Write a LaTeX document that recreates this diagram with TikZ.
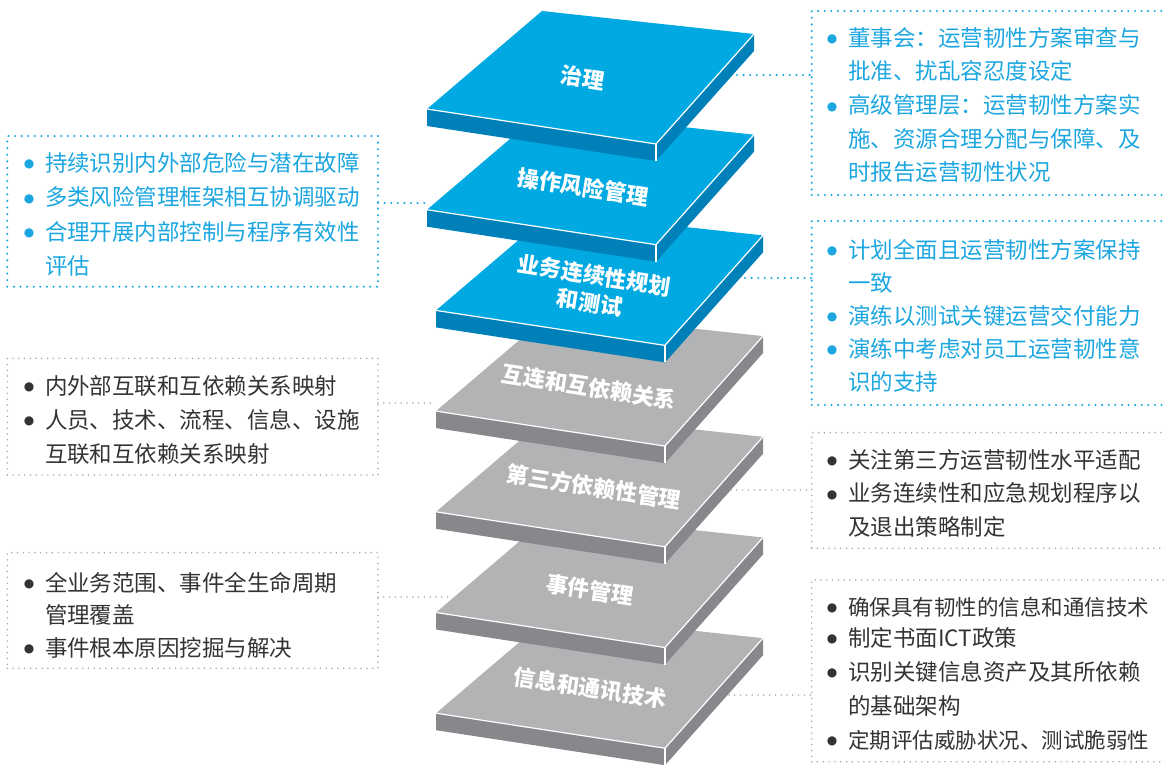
\documentclass[tikz,border=0pt]{standalone}
\usepackage{fontspec}
\setmainfont{Noto Sans CJK SC}
\newfontfamily\symfont{DejaVu Sans}
\usepackage{tikz}

\definecolor{topblue}{HTML}{00A9E2}
\definecolor{sideblue}{HTML}{0080B9}
\definecolor{topgray}{HTML}{B1B3B4}
\definecolor{sidegray}{HTML}{86888C}
\definecolor{noteblue}{HTML}{1BA6E0}
\definecolor{notegray}{HTML}{A8A8A8}
\definecolor{textgray}{HTML}{333333}

\newcommand{\bul}{\makebox[32pt][c]{\raisebox{3.5pt}{\symfont\fontsize{12}{12}\selectfont ●}}}
\newcommand{\cont}{\hspace*{32pt}}

\begin{document}
\begin{tikzpicture}[x=1pt, y=-1pt,
  layertext/.style={text=white, font=\bfseries\fontsize{22}{28}\selectfont, align=center, rotate=-9},
  bluedots/.style={draw=noteblue, dash pattern=on 0pt off 6.6pt, line cap=round, line width=2.3pt},
  graydots/.style={draw=notegray, dash pattern=on 0pt off 5.8pt, line cap=round, line width=1.7pt},
  note/.style={anchor=north west, align=left, inner ysep=0pt, outer sep=0pt},
  leftnote/.style={note, inner xsep=5.7pt, text width=359.3pt},
  rightnote/.style={note, inner xsep=4.3pt, text width=354.7pt},
  bluenote/.style={bluedots, text=noteblue},
  graynote/.style={graydots, text=textgray}
]
  \useasboundingbox (0,0) rectangle (1165,764);

  % layers, bottom first
  \foreach \n/\dx/\tc/\sc in {7/9/topgray/sidegray, 6/9/topgray/sidegray, 5/9/topgray/sidegray,
      4/9/topgray/sidegray, 3/9/topblue/sideblue, 2/0/topblue/sideblue, 1/0/topblue/sideblue} {
    \begin{scope}[shift={({542+\dx},{11+100.7*(\n-1)})}]
      \fill[\sc] (-115,98) -- (114,133) -- (114,150) -- (-115,115) -- cycle;
      \fill[\sc] (114,133) -- (212,23) -- (212,40) -- (114,150) -- cycle;
      \fill[\tc] (0,0) -- (212,23) -- (114,133) -- (-115,98) -- cycle;
      \draw[white, line width=1.2pt] (-115,98) -- (114,133) -- (212,23);
      \draw[white, line width=1.2pt] (114,133) -- (114,150);
    \end{scope}
  }

  \node[layertext] (gov) at (583,78) {治理};
  \node[layertext] (orm) at (583,187) {操作风险管理};
  \node[layertext] (bcp) at (592,289) {业务连续性规划\\和测试};
  \node[layertext] (inter) at (589,387) {互连和互依赖关系};
  \node[layertext] (third) at (594,487) {第三方依赖性管理};
  \node[layertext] (inc) at (590,590) {事件管理};
  \node[layertext] (ict) at (590,688) {信息和通讯技术};

  % notes
  \node[rightnote, bluenote, text height=35.3pt, text depth=148.7pt,
    font=\fontsize{22.5}{33.6}\selectfont] (govnote) at (811.7,11)
    {\bul 董事会：运营韧性方案审查与\\\cont 批准、扰乱容忍度设定\\\bul 高级管理层：运营韧性方案实\\\cont 施、资源合理分配与保障、及\\\cont 时报告运营韧性状况};
  \node[leftnote, bluenote, text height=35pt, text depth=115.7pt,
    font=\fontsize{22.5}{34.5}\selectfont] (ormnote) at (7.3,136)
    {\bul 持续识别内外部危险与潜在故障\\\bul 多类风险管理框架相互协调驱动\\\bul 合理开展内部控制与程序有效性\\\cont 评估};
  \node[rightnote, bluenote, text height=37pt, text depth=147pt,
    font=\fontsize{22.5}{33}\selectfont] (bcpnote) at (811.7,221)
    {\bul 计划全面且运营韧性方案保持\\\cont 一致\\\bul 演练以测试关键运营交付能力\\\bul 演练中考虑对员工运营韧性意\\\cont 识的支持};
  \node[leftnote, graynote, text height=35.7pt, text depth=81pt,
    font=\fontsize{22.5}{34}\selectfont] (internote) at (7.3,358.3)
    {\bul 内外部互联和互依赖关系映射\\\bul 人员、技术、流程、信息、设施\\\cont 互联和互依赖关系映射};
  \node[rightnote, graynote, text height=35.3pt, text depth=80.3pt,
    font=\fontsize{22.5}{33.6}\selectfont] (thirdnote) at (811.7,432.7)
    {\bul 关注第三方运营韧性水平适配\\\bul 业务连续性和应急规划程序以\\\cont 及退出策略制定};
  \node[leftnote, graynote, text height=38.6pt, text depth=77pt,
    font=\fontsize{22.5}{32.5}\selectfont] (incnote) at (7.3,552.7)
    {\bul 全业务范围、事件全生命周期\\\cont 管理覆盖\\\bul 事件根本原因挖掘与解决};
  \node[rightnote, graynote, text height=35pt, text depth=146.7pt,
    font=\fontsize{22.5}{34}\selectfont] (ictnote) at (811.7,580)
    {\bul {\fontsize{21.5}{34}\selectfont 确保具有韧性的信息和通信技术}\\[-3pt]\bul 制定书面ICT政策\\\bul 识别关键信息资产及其所依赖\\\cont 的基础架构\\\bul {\fontsize{21.5}{34}\selectfont 定期评估威胁状况、测试脆弱性}};

  % links
  \coordinate (gov-r) at (737,75);
  \coordinate (orm-l) at (426,203);
  \coordinate (bcp-r) at (745,278);
  \coordinate (inter-l) at (434,403);
  \coordinate (third-r) at (731,490);
  \coordinate (inc-l) at (448,597);
  \coordinate (ict-r) at (729,695);

  \draw[bluedots] (gov-r) -- (gov-r -| govnote.west);
  \draw[bluedots] (ormnote.east |- orm-l) -- (orm-l);
  \draw[bluedots] (bcp-r) -- (bcp-r -| bcpnote.west);
  \draw[graydots] (internote.east |- inter-l) -- (inter-l);
  \draw[graydots] (third-r) -- (third-r -| thirdnote.west);
  \draw[graydots] (incnote.east |- inc-l) -- (inc-l);
  \draw[graydots] (ict-r) -- (ict-r -| ictnote.west);
\end{tikzpicture}
\end{document}
